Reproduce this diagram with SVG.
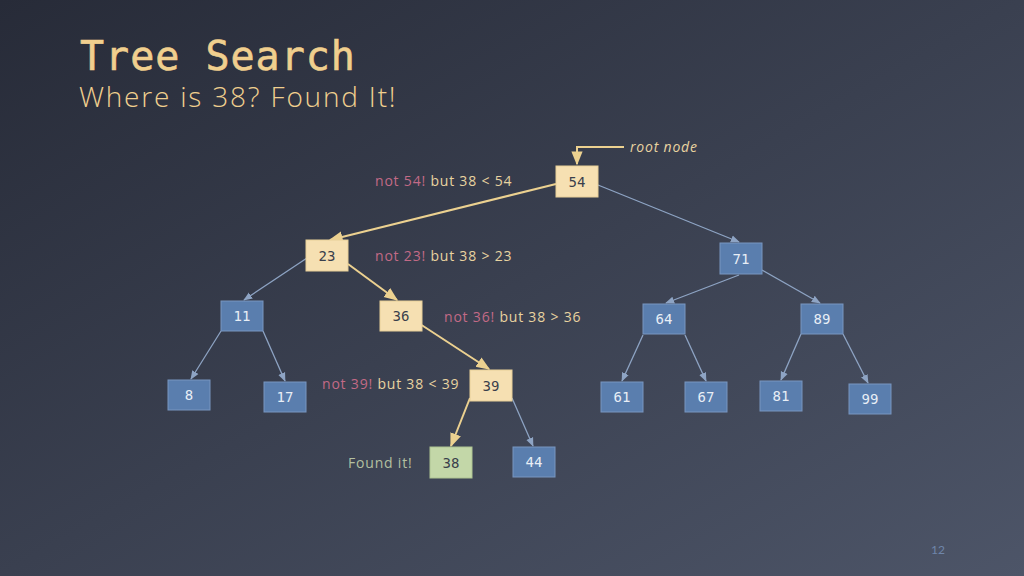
<svg xmlns="http://www.w3.org/2000/svg" width="1024" height="576" viewBox="0 0 1024 576">
<defs>
<linearGradient id="bg" x1="0" y1="0" x2="1" y2="1"><stop offset="0" stop-color="#272b38"/><stop offset="1" stop-color="#4d5568"/></linearGradient>
<marker id="ab" viewBox="0 0 10 10" refX="9" refY="5" markerWidth="7" markerHeight="7" orient="auto"><path d="M0,1 L10,5 L0,9 z" fill="#8ea4c4"/></marker>
<marker id="ag" viewBox="0 0 10 10" refX="9" refY="5" markerWidth="7" markerHeight="7" orient="auto"><path d="M0,1 L10,5 L0,9 z" fill="#ecd190"/></marker>
<style>
.b rect{fill:#5a7eae;stroke:#7896c0;stroke-width:1}
.g rect{fill:#f6e0b2;stroke:#e8cf98;stroke-width:1}
.f rect{fill:#c3d7a8;stroke:#aec492;stroke-width:1}
.b text{fill:#e8eef6}
.g text,.f text{fill:#3a3f4c}
.n text{font-family:"DejaVu Sans Mono",monospace;font-size:14px;text-anchor:middle;dominant-baseline:central}
.eb{stroke:#8ea4c4;stroke-width:1.3;fill:none;marker-end:url(#ab)}
.eg{stroke:#ecd190;stroke-width:2;fill:none;marker-end:url(#ag)}
.l{font-family:"Open Sans","Noto Sans",sans-serif;font-size:14px;fill:#e8d3a0;letter-spacing:0.8px}
.r{fill:#c26a86}
</style>
</defs>
<rect width="1024" height="576" fill="url(#bg)"/>
<text x="80" y="70" font-family="'DejaVu Sans Mono',monospace" font-size="40" font-weight="500" fill="#f0cf8e" letter-spacing="1" stroke="#f0cf8e" stroke-width="0.6">Tree Search</text>
<text x="79" y="107" font-family="'Open Sans','Noto Sans',sans-serif" font-size="28" font-weight="300" fill="#f0cf8e" letter-spacing="1.8">Where is 38? Found It!</text>
<g id="connectors">
<path class="eg" d="M624,147 H577 V164"/>
<path class="eg" d="M556,184 L330,240"/>
<path class="eb" d="M598,185 L739,242"/>
<path class="eb" d="M307,258 L244,300"/>
<path class="eg" d="M348,264 L397,300"/>
<path class="eb" d="M739,275 L666,303"/>
<path class="eb" d="M762,270 L820,303"/>
<path class="eb" d="M221,331 L191,379"/>
<path class="eb" d="M263,331 L285,381"/>
<path class="eg" d="M420,324 L489,369"/>
<path class="eb" d="M643,335 L622,381"/>
<path class="eb" d="M685,335 L706,381"/>
<path class="eb" d="M801,334 L781,380"/>
<path class="eb" d="M843,334 L868,383"/>
<path class="eg" d="M470,398 L451,446"/>
<path class="eb" d="M512,398 L533,446"/>
</g>
<g id="n54" class="n g"><rect x="556" y="166" width="42" height="31"/><text x="577" y="182">54</text></g>
<g id="n23" class="n g"><rect x="306" y="240" width="42" height="31"/><text x="327" y="256">23</text></g>
<g id="n71" class="n b"><rect x="720" y="243" width="42" height="31"/><text x="741" y="259">71</text></g>
<g id="n11" class="n b"><rect x="221" y="301" width="42" height="30"/><text x="242" y="316">11</text></g>
<g id="n36" class="n g"><rect x="380" y="301" width="42" height="30"/><text x="401" y="316">36</text></g>
<g id="n64" class="n b"><rect x="643" y="304" width="42" height="30"/><text x="664" y="319">64</text></g>
<g id="n89" class="n b"><rect x="801" y="304" width="42" height="30"/><text x="822" y="319">89</text></g>
<g id="n8" class="n b"><rect x="168" y="380" width="42" height="30"/><text x="189" y="395">8</text></g>
<g id="n17" class="n b"><rect x="264" y="382" width="42" height="30"/><text x="285" y="397">17</text></g>
<g id="n39" class="n g"><rect x="470" y="370" width="42" height="31"/><text x="491" y="386">39</text></g>
<g id="n61" class="n b"><rect x="601" y="382" width="42" height="30"/><text x="622" y="397">61</text></g>
<g id="n67" class="n b"><rect x="685" y="382" width="42" height="30"/><text x="706" y="397">67</text></g>
<g id="n81" class="n b"><rect x="760" y="381" width="42" height="30"/><text x="781" y="396">81</text></g>
<g id="n99" class="n b"><rect x="849" y="384" width="42" height="30"/><text x="870" y="399">99</text></g>
<g id="n38" class="n f"><rect x="430" y="447" width="42" height="31"/><text x="451" y="463">38</text></g>
<g id="n44" class="n b"><rect x="513" y="447" width="42" height="30"/><text x="534" y="462">44</text></g>
<text x="630" y="152" class="l" font-style="italic">root node</text>
<text x="375" y="186" class="l"><tspan class="r">not 54!</tspan> but 38 &lt; 54</text>
<text x="375" y="261" class="l"><tspan class="r">not 23!</tspan> but 38 &gt; 23</text>
<text x="444" y="322" class="l"><tspan class="r">not 36!</tspan> but 38 &gt; 36</text>
<text x="322" y="389" class="l"><tspan class="r">not 39!</tspan> but 38 &lt; 39</text>
<text x="348" y="468" class="l" style="fill:#b4c0a0">Found it!</text>
<text x="945" y="554" font-family="Lato,sans-serif" font-size="12" fill="#6f86aa" text-anchor="end">12</text>
</svg>
